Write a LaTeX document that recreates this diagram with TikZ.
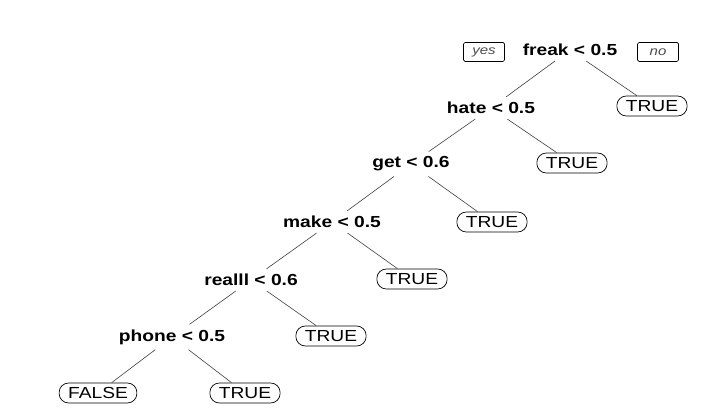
\documentclass[tikz,border=0pt]{standalone}
\usepackage{fontspec}
\usepackage{graphicx}
\setmainfont{Liberation Sans}
\newcommand{\wide}[1]{\scalebox{1.2}[1]{#1}}
\tikzset{
  split/.style={inner xsep=2pt, inner ysep=5pt, font=\fontsize{16}{18}\selectfont\bfseries},
  leaf/.style={draw=black, line width=0.7pt, rounded corners=9.5pt, minimum height=20pt,
               inner xsep=9pt, inner ysep=0pt, font=\fontsize{16}{18}\selectfont},
  tag/.style={draw=black, line width=0.7pt, rounded corners=1.5pt, minimum height=19pt,
              minimum width=41pt, inner xsep=6pt, inner ysep=0pt,
              font=\fontsize{12.5}{14}\selectfont\itshape, text=black!70},
  branch/.style={draw=black!75, line width=0.6pt}
}
\begin{document}
\begin{tikzpicture}[x=1pt,y=-1pt]
\useasboundingbox[fill=white] (0,0) rectangle (724,419);
% split nodes
\node[split] (freak)  at (570,50)  {\wide{freak < 0.5}};
\node[split] (hate)   at (491,108) {\wide{hate < 0.5}};
\node[split] (get)    at (411,164) {\wide{get < 0.6}};
\node[split] (make)   at (332,222) {\wide{make < 0.5}};
\node[split] (realll) at (251,280) {\wide{realll < 0.6}};
\node[split] (phone)  at (172,337) {\wide{phone < 0.5}};
% yes / no tags
\node[tag] (yes) at (484,52) {\wide{yes}};
\node[tag] (no)  at (658,52) {\wide{no}};
% leaves
\node[leaf] (t1) at (652,106) {\wide{TRUE}};
\node[leaf] (t2) at (572,163) {\wide{TRUE}};
\node[leaf] (t3) at (492,222) {\wide{TRUE}};
\node[leaf] (t4) at (412,279) {\wide{TRUE}};
\node[leaf] (t5) at (331,336) {\wide{TRUE}};
\node[leaf] (f6) at (98,393)  {\wide{FALSE}};
\node[leaf] (t6) at (245,393) {\wide{TRUE}};
% branches
\draw[branch] (freak) -- (hate);
\draw[branch] (freak) -- (t1);
\draw[branch] (hate) -- (get);
\draw[branch] (hate) -- (t2);
\draw[branch] (get) -- (make);
\draw[branch] (get) -- (t3);
\draw[branch] (make) -- (realll);
\draw[branch] (make) -- (t4);
\draw[branch] (realll) -- (phone);
\draw[branch] (realll) -- (t5);
\draw[branch] (phone) -- (f6);
\draw[branch] (phone) -- (t6);
\end{tikzpicture}
\end{document}
